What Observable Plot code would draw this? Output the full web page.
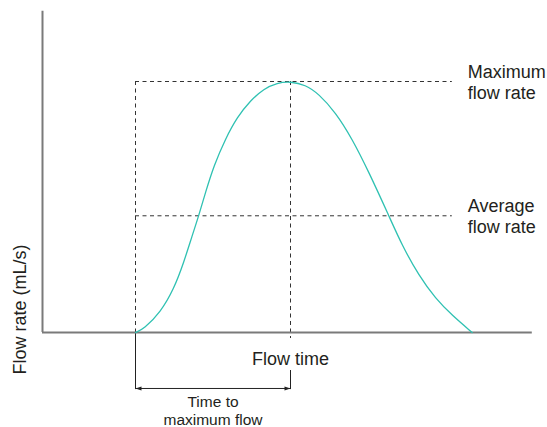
<!DOCTYPE html>
<html>
<head>
<meta charset="utf-8">
<script src="https://cdn.jsdelivr.net/npm/d3@7"></script>
<script src="https://cdn.jsdelivr.net/npm/@observablehq/plot@0.6"></script>
<style>
  html, body { margin: 0; padding: 0; background: #fff; }
  #chart svg { display: block; }
</style>
</head>
<body>
<div id="chart"></div>
<script>
// Flow curve (time in s, flow rate in mL/s)
const curveTime = [0, 0.27, 0.81, 1.24, 1.56, 1.83, 2.04, 2.26, 2.53, 2.9, 3.28, 3.71, 4.14, 4.57, 5,
                   5.48, 5.91, 6.45, 6.99, 7.53, 8.17, 8.6, 9.14, 9.68, 10.22, 10.86];
const curveRate = [0, 0.29, 1.62, 3.48, 5.6, 7.73, 9.3, 11.18, 13.31, 15.43, 17.16, 18.49, 19.42, 19.9, 20,
                   19.74, 19.02, 17.55, 15.43, 12.77, 9.32, 6.93, 4.54, 2.69, 1.35, 0];

const maxRate = 20;
const avgRate = 9.3;
const tStart = 0;
const tPeak = 5;
const refEnd = 10.22;

const rateLevels = [maxRate, avgRate];
const rateLabels = ["Maximum\nflow rate", "Average\nflow rate"];
const xLabel = "Flow time";
const yLabel = "Flow rate (mL/s)";
const spanLabel = ["Time to", "maximum flow"];

const xDomain = [-3, 12.8];
const yDomain = [0, 25.6];

const curve = curveTime.map((t, i) => ({t, q: curveRate[i]}));
const levels = rateLevels.map((q, i) => ({q, label: rateLabels[i]}));

function arrowHead(color, context) {
  const m = d3.create("svg:marker")
    .attr("viewBox", "-7 -3 8 6")
    .attr("markerWidth", 8)
    .attr("markerHeight", 6)
    .attr("refX", 0)
    .attr("refY", 0)
    .attr("orient", "auto-start-reverse")
    .attr("fill", color)
    .attr("stroke", "none");
  m.append("path").attr("d", "M-6,-2L0,0L-6,2Z");
  return m.node();
}

const textColor = "#231f20";
const dashColor = "#333333";
const axisColor = "#7a7a7a";

const chart = Plot.plot({
  width: 547,
  height: 427,
  style: {fontFamily: "'Liberation Sans', Arial, sans-serif", background: "#fff"},
  x: {domain: xDomain, range: [42, 531.8], axis: null},
  y: {domain: yDomain, range: [332, 10.72], axis: null},
  marks: [
    // dashed reference lines
    Plot.ruleY(levels, {y: "q", x1: tStart, x2: refEnd, stroke: dashColor, strokeWidth: 1, strokeDasharray: "4,3.5"}),
    Plot.ruleX([tStart], {y1: maxRate, y2: 0, stroke: dashColor, strokeWidth: 1, strokeDasharray: "4,3.5"}),
    Plot.ruleX([tPeak], {y1: maxRate, y2: -0.48, stroke: dashColor, strokeWidth: 1, strokeDasharray: "4,3.5"}),
    // solid extension lines below axis
    Plot.ruleX([tStart], {y1: 0, y2: -4.55, stroke: "#222", strokeWidth: 1}),
    Plot.ruleX([tPeak], {y1: -3.03, y2: -4.55, stroke: "#222", strokeWidth: 1}),
    // double-headed arrow
    Plot.link([{x1: tStart, x2: tPeak, y: -4.46}], {x1: "x1", x2: "x2", y1: "y", y2: "y", stroke: "#222", strokeWidth: 1, markerStart: arrowHead, markerEnd: arrowHead}),
    // axes
    Plot.ruleX([xDomain[0]], {y1: yDomain[0], y2: yDomain[1], stroke: axisColor, strokeWidth: 2}),
    Plot.ruleY([0], {x1: xDomain[0], x2: xDomain[1], stroke: axisColor, strokeWidth: 2}),
    // flow curve
    Plot.line(curve, {x: "t", y: "q", curve: "basis", stroke: "#2fc1b2", strokeWidth: 1.3}),
    // labels
    Plot.text(levels, {x: 10.72, y: "q", text: "label", textAnchor: "start", lineAnchor: "middle", lineHeight: 1.17, fontSize: 18, fill: textColor}),
    Plot.text([xLabel], {x: tPeak, y: -2.11, text: d => d, fontSize: 18, fill: textColor}),
    Plot.text([yLabel], {x: -3.71, y: 1.83, text: d => d, rotate: -90, fontSize: 18, fill: textColor}),
    Plot.text(spanLabel, {x: (tStart + tPeak) / 2, y: (d, i) => [-5.55, -7.01][i], text: d => d, fontSize: 15.5, fill: textColor})
  ]
});
document.getElementById("chart").append(chart);
</script>
</body>
</html>
